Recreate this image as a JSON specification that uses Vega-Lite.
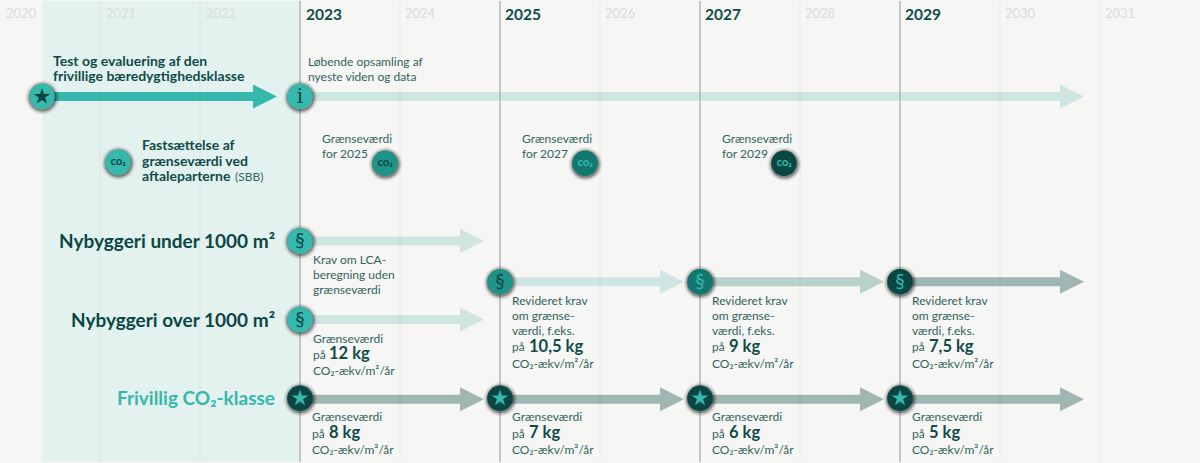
{
  "$schema": "https://vega.github.io/schema/vega-lite/v6.json",
  "width": 1200,
  "height": 463,
  "autosize": {"type": "fit", "contains": "padding"},
  "padding": 0,
  "background": "#f6f6f4",
  "config": {
    "view": {"stroke": null},
    "text": {"font": "Lato", "align": "left", "baseline": "middle"}
  },
  "datasets": {
    "periode": [{"x": 2020.42, "x2": 2023}],
    "aar": [
      {"x": 2021}, {"x": 2022}, {"x": 2024}, {"x": 2026}, {"x": 2028}, {"x": 2030}, {"x": 2031}
    ],
    "milepael": [{"x": 2023}, {"x": 2025}, {"x": 2027}, {"x": 2029}],
    "pile": [
      {"x": 2020.5, "x2": 2022.55, "spids": 2022.65, "lane": 9.6, "tone": "teal"},
      {"x": 2023, "x2": 2030.6, "spids": 2030.72, "lane": 9.6, "tone": "lys"},
      {"x": 2023, "x2": 2024.6, "spids": 2024.72, "lane": 24.1, "tone": "lys"},
      {"x": 2023, "x2": 2024.6, "spids": 2024.72, "lane": 32, "tone": "lys"},
      {"x": 2025, "x2": 2026.6, "spids": 2026.72, "lane": 28.2, "tone": "lys"},
      {"x": 2027, "x2": 2028.6, "spids": 2028.72, "lane": 28.2, "tone": "mellemlys"},
      {"x": 2029, "x2": 2030.6, "spids": 2030.72, "lane": 28.2, "tone": "graa"},
      {"x": 2023, "x2": 2024.6, "spids": 2024.72, "lane": 40, "tone": "graa"},
      {"x": 2025, "x2": 2026.6, "spids": 2026.72, "lane": 40, "tone": "graa"},
      {"x": 2027, "x2": 2028.6, "spids": 2028.72, "lane": 40, "tone": "graa"},
      {"x": 2029, "x2": 2030.6, "spids": 2030.72, "lane": 40, "tone": "graa"}
    ],
    "cirkler": [
      {"x": 2020.42, "lane": 9.6, "tone": "teal"},
      {"x": 2023, "lane": 9.6, "tone": "teal"},
      {"x": 2023, "lane": 24.1, "tone": "teal"},
      {"x": 2023, "lane": 32, "tone": "teal"},
      {"x": 2025, "lane": 28.2, "tone": "groen"},
      {"x": 2027, "lane": 28.2, "tone": "moerkgroen"},
      {"x": 2029, "lane": 28.2, "tone": "moerk"},
      {"x": 2023, "lane": 39.9, "tone": "moerk"},
      {"x": 2025, "lane": 39.9, "tone": "moerk"},
      {"x": 2027, "lane": 39.9, "tone": "moerk"},
      {"x": 2029, "lane": 39.9, "tone": "moerk"},
      {"x": 2021.18, "lane": 16.2, "tone": "teal"},
      {"x": 2023.85, "lane": 16.3, "tone": "groen"},
      {"x": 2025.85, "lane": 16.3, "tone": "moerkgroen"},
      {"x": 2027.84, "lane": 16.3, "tone": "moerk"}
    ],
    "stjerner": [
      {"x": 2020.42, "lane": 9.6, "tone": "moerk"},
      {"x": 2023, "lane": 39.9, "tone": "teal"},
      {"x": 2025, "lane": 39.9, "tone": "teal"},
      {"x": 2027, "lane": 39.9, "tone": "teal"},
      {"x": 2029, "lane": 39.9, "tone": "teal"}
    ],
    "paragraf": [
      {"x": 2023, "lane": 24.1, "tone": "moerk", "label": "§"},
      {"x": 2023, "lane": 32, "tone": "moerk", "label": "§"},
      {"x": 2025, "lane": 28.2, "tone": "moerk", "label": "§"},
      {"x": 2027, "lane": 28.2, "tone": "teal", "label": "§"},
      {"x": 2029, "lane": 28.2, "tone": "teal", "label": "§"}
    ],
    "info": [{"x": 2023, "lane": 9.6, "label": "i"}],
    "co2": [
      {"x": 2021.18, "lane": 16.2, "tone": "moerk", "label": "CO₂"},
      {"x": 2023.85, "lane": 16.3, "tone": "moerk", "label": "CO₂"},
      {"x": 2025.85, "lane": 16.3, "tone": "teal", "label": "CO₂"},
      {"x": 2027.84, "lane": 16.3, "tone": "teal", "label": "CO₂"}
    ],
    "aarstal": [
      {"x": 2020.06, "lane": 1.3, "label": "2020"},
      {"x": 2021.06, "lane": 1.3, "label": "2021"},
      {"x": 2022.06, "lane": 1.3, "label": "2022"},
      {"x": 2024.05, "lane": 1.3, "label": "2024"},
      {"x": 2026.05, "lane": 1.3, "label": "2026"},
      {"x": 2028.05, "lane": 1.3, "label": "2028"},
      {"x": 2030.05, "lane": 1.3, "label": "2030"},
      {"x": 2031.05, "lane": 1.3, "label": "2031"}
    ],
    "aarstal_fed": [
      {"x": 2023.06, "lane": 1.4, "label": "2023"},
      {"x": 2025.05, "lane": 1.4, "label": "2025"},
      {"x": 2027.05, "lane": 1.4, "label": "2027"},
      {"x": 2029.05, "lane": 1.4, "label": "2029"}
    ],
    "overskrift": [
      {"x": 2020.53, "lane": 6.1, "label": "Test og evaluering af den"},
      {"x": 2020.53, "lane": 7.6, "label": "frivillige bæredygtighedsklasse"},
      {"x": 2021.42, "lane": 14.6, "label": "Fastsættelse af"},
      {"x": 2021.42, "lane": 16.15, "label": "grænseværdi ved"},
      {"x": 2021.42, "lane": 17.7, "label": "aftaleparterne"}
    ],
    "brod": [
      {"x": 2023.08, "lane": 6.1, "label": "Løbende opsamling af"},
      {"x": 2023.08, "lane": 7.6, "label": "nyeste viden og data"},
      {"x": 2022.35, "lane": 17.7, "label": "(SBB)"},
      {"x": 2023.22, "lane": 13.9, "label": "Grænseværdi"},
      {"x": 2023.22, "lane": 15.4, "label": "for 2025"},
      {"x": 2025.22, "lane": 13.9, "label": "Grænseværdi"},
      {"x": 2025.22, "lane": 15.4, "label": "for 2027"},
      {"x": 2027.22, "lane": 13.9, "label": "Grænseværdi"},
      {"x": 2027.22, "lane": 15.4, "label": "for 2029"},
      {"x": 2023.13, "lane": 26, "label": "Krav om LCA-"},
      {"x": 2023.13, "lane": 27.5, "label": "beregning uden"},
      {"x": 2023.13, "lane": 29, "label": "grænseværdi"},
      {"x": 2023.13, "lane": 33.9, "label": "Grænseværdi"},
      {"x": 2023.13, "lane": 35.6, "label": "på"},
      {"x": 2023.13, "lane": 37.2, "label": "CO₂-ækv/m²/år"},
      {"x": 2025.12, "lane": 30.1, "label": "Revideret krav"},
      {"x": 2025.12, "lane": 31.6, "label": "om grænse-"},
      {"x": 2025.12, "lane": 33.1, "label": "værdi, f.eks."},
      {"x": 2025.12, "lane": 34.8, "label": "på"},
      {"x": 2025.12, "lane": 36.5, "label": "CO₂-ækv/m²/år"},
      {"x": 2027.12, "lane": 30.1, "label": "Revideret krav"},
      {"x": 2027.12, "lane": 31.6, "label": "om grænse-"},
      {"x": 2027.12, "lane": 33.1, "label": "værdi, f.eks."},
      {"x": 2027.12, "lane": 34.8, "label": "på"},
      {"x": 2027.12, "lane": 36.5, "label": "CO₂-ækv/m²/år"},
      {"x": 2029.12, "lane": 30.1, "label": "Revideret krav"},
      {"x": 2029.12, "lane": 31.6, "label": "om grænse-"},
      {"x": 2029.12, "lane": 33.1, "label": "værdi, f.eks."},
      {"x": 2029.12, "lane": 34.8, "label": "på"},
      {"x": 2029.12, "lane": 36.5, "label": "CO₂-ækv/m²/år"},
      {"x": 2023.12, "lane": 41.8, "label": "Grænseværdi"},
      {"x": 2023.12, "lane": 43.5, "label": "på"},
      {"x": 2023.12, "lane": 45.1, "label": "CO₂-ækv/m²/år"},
      {"x": 2025.12, "lane": 41.8, "label": "Grænseværdi"},
      {"x": 2025.12, "lane": 43.5, "label": "på"},
      {"x": 2025.12, "lane": 45.1, "label": "CO₂-ækv/m²/år"},
      {"x": 2027.12, "lane": 41.8, "label": "Grænseværdi"},
      {"x": 2027.12, "lane": 43.5, "label": "på"},
      {"x": 2027.12, "lane": 45.1, "label": "CO₂-ækv/m²/år"},
      {"x": 2029.12, "lane": 41.8, "label": "Grænseværdi"},
      {"x": 2029.12, "lane": 43.5, "label": "på"},
      {"x": 2029.12, "lane": 45.1, "label": "CO₂-ækv/m²/år"}
    ],
    "kg": [
      {"x": 2023.29, "lane": 35.5, "label": "12 kg"},
      {"x": 2025.29, "lane": 34.7, "label": "10,5 kg"},
      {"x": 2027.29, "lane": 34.7, "label": "9 kg"},
      {"x": 2029.29, "lane": 34.7, "label": "7,5 kg"},
      {"x": 2023.29, "lane": 43.4, "label": "8 kg"},
      {"x": 2025.29, "lane": 43.4, "label": "7 kg"},
      {"x": 2027.29, "lane": 43.4, "label": "6 kg"},
      {"x": 2029.29, "lane": 43.4, "label": "5 kg"}
    ],
    "kategori": [
      {"x": 2022.75, "lane": 24.2, "tone": "moerk", "label": "Nybyggeri under 1000 m²"},
      {"x": 2022.75, "lane": 32.1, "tone": "moerk", "label": "Nybyggeri over 1000 m²"},
      {"x": 2022.75, "lane": 40, "tone": "teal", "label": "Frivillig CO₂-klasse"}
    ]
  },
  "encoding": {
    "x": {"field": "x", "type": "quantitative", "scale": {"domain": [2020, 2032], "nice": false, "zero": false}, "axis": null},
    "y": {"field": "lane", "type": "quantitative", "scale": {"domain": [46.3, 0], "nice": false, "zero": false}, "axis": null},
    "color": {
      "field": "tone",
      "type": "nominal",
      "legend": null,
      "scale": {
        "domain": ["teal", "lys", "mellemlys", "graa", "groen", "moerkgroen", "moerk"],
        "range": ["#36b8ac", "#cfe5e1", "#b9d0cb", "#a0b6b3", "#1f9486", "#12786f", "#0a4744"]
      }
    }
  },
  "layer": [
    {
      "data": {"name": "periode"},
      "mark": {"type": "rect", "color": "#e4f2ef"},
      "encoding": {"x2": {"field": "x2"}, "y": null, "color": null}
    },
    {
      "data": {"name": "pile"},
      "mark": {"type": "rule", "strokeWidth": 9},
      "encoding": {"x2": {"field": "x2"}}
    },
    {
      "data": {"name": "pile"},
      "mark": {"type": "point", "filled": true, "opacity": 1, "shape": "M-1,-1L1,0L-1,1Z", "size": 576},
      "encoding": {"x": {"field": "spids", "type": "quantitative"}}
    },
    {
      "data": {"name": "aar"},
      "mark": {"type": "rule", "color": "#000000", "opacity": 0.035, "strokeWidth": 1.5},
      "encoding": {"y": null, "color": null}
    },
    {
      "data": {"name": "milepael"},
      "mark": {"type": "rule", "color": "#a8bab7", "strokeWidth": 1.5},
      "encoding": {"y": null, "color": null}
    },
    {
      "data": {"name": "cirkler"},
      "mark": {"type": "point", "filled": true, "shape": "circle", "color": "#000000", "opacity": 0.07, "size": 1156, "xOffset": 0.5, "yOffset": 1},
      "encoding": {"color": null}
    },
    {
      "data": {"name": "cirkler"},
      "mark": {"type": "point", "filled": true, "shape": "circle", "color": "#000000", "opacity": 0.14, "size": 961, "xOffset": 0.5, "yOffset": 1},
      "encoding": {"color": null}
    },
    {
      "data": {"name": "cirkler"},
      "mark": {"type": "point", "filled": true, "shape": "circle", "color": "#000000", "opacity": 0.3, "size": 784, "xOffset": 0.5, "yOffset": 1},
      "encoding": {"color": null}
    },
    {
      "data": {"name": "cirkler"},
      "mark": {"type": "point", "filled": true, "shape": "circle", "opacity": 1, "size": 650}
    },
    {
      "data": {"name": "stjerner"},
      "mark": {"type": "point", "filled": true, "opacity": 1, "size": 300, "shape": "M0,-1L0.2245,-0.309L0.951,-0.309L0.363,0.118L0.588,0.809L0,0.382L-0.588,0.809L-0.363,0.118L-0.951,-0.309L-0.2245,-0.309Z"}
    },
    {
      "data": {"name": "paragraf"},
      "mark": {"type": "text", "fontSize": 19, "align": "center"},
      "encoding": {"text": {"field": "label"}}
    },
    {
      "data": {"name": "info"},
      "mark": {"type": "text", "font": "DejaVu Serif", "fontSize": 20, "align": "center", "color": "#0a4744"},
      "encoding": {"text": {"field": "label"}, "color": null}
    },
    {
      "data": {"name": "co2"},
      "mark": {"type": "text", "font": "Noto Sans", "fontSize": 8.5, "fontWeight": "bold", "align": "center"},
      "encoding": {"text": {"field": "label"}}
    },
    {
      "data": {"name": "aarstal"},
      "mark": {"type": "text", "fontSize": 13, "color": "#d9dcdb"},
      "encoding": {"text": {"field": "label"}, "color": null}
    },
    {
      "data": {"name": "aarstal_fed"},
      "mark": {"type": "text", "fontSize": 15.5, "fontWeight": "bold", "color": "#0f4c49"},
      "encoding": {"text": {"field": "label"}, "color": null}
    },
    {
      "data": {"name": "overskrift"},
      "mark": {"type": "text", "fontSize": 14, "fontWeight": "bold", "color": "#0f4c49"},
      "encoding": {"text": {"field": "label"}, "color": null}
    },
    {
      "data": {"name": "brod"},
      "mark": {"type": "text", "fontSize": 12, "color": "#33625f"},
      "encoding": {"text": {"field": "label"}, "color": null}
    },
    {
      "data": {"name": "kg"},
      "mark": {"type": "text", "fontSize": 16.5, "fontWeight": "bold", "color": "#0f4c49"},
      "encoding": {"text": {"field": "label"}, "color": null}
    },
    {
      "data": {"name": "kategori"},
      "mark": {"type": "text", "fontSize": 19, "fontWeight": "bold", "align": "right"},
      "encoding": {"text": {"field": "label"}}
    }
  ]
}
